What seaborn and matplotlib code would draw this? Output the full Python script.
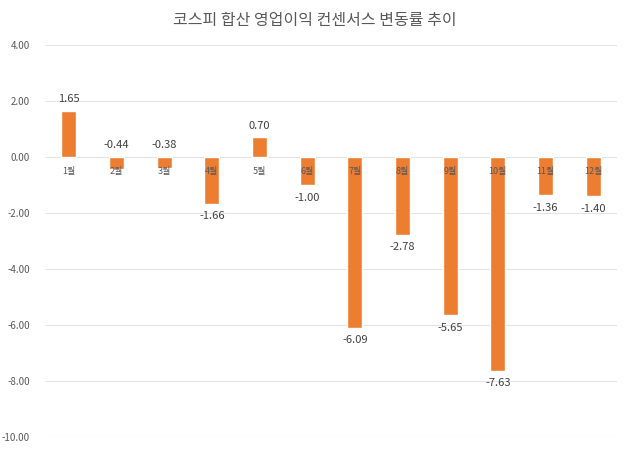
import matplotlib
matplotlib.use("Agg")
import matplotlib.pyplot as plt
import seaborn as sns
import pandas as pd

months = ["1월", "2월", "3월", "4월", "5월", "6월", "7월", "8월", "9월", "10월", "11월", "12월"]
values = [1.65, -0.44, -0.38, -1.66, 0.70, -1.00, -6.09, -2.78, -5.65, -7.63, -1.36, -1.40]
y_ticks = [4, 2, 0, -2, -4, -6, -8, -10]

sns.set_theme(style="white")
plt.rcParams['font.family'] = ['Noto Sans CJK KR', 'DejaVu Sans']

df = pd.DataFrame({"month": months, "value": values})

fig = plt.figure(figsize=(6.3, 4.49), dpi=100)
ax = fig.add_axes([0.0714, 0.0267, 0.908, 0.873])

sns.barplot(data=df, x="month", y="value", color="#ED7D31", saturation=1,
            width=0.31, ax=ax, zorder=2)

ax.set_ylim(-10, 4)
ax.set_xlim(-0.5, len(months) - 0.5)
ax.set_yticks(y_ticks)
ax.set_yticklabels([f"{t:.2f}" for t in y_ticks], fontsize=7, color="#595959")
ax.tick_params(axis="y", length=0, pad=11)
ax.set_xticks([])
ax.set_xlabel("")
ax.set_ylabel("")
for s in ax.spines.values():
    s.set_visible(False)
ax.yaxis.grid(True, color="#E4E4E4", linewidth=0.8, zorder=0)
ax.set_axisbelow(True)

# month labels sit just under the zero line
for i, m in enumerate(months):
    ax.annotate(m, (i, 0), xytext=(0, -10.5), textcoords="offset points",
                ha="center", va="center", fontsize=6.5, color="#595959", zorder=3)

# value labels: small negatives go above the zero line so they clear the month label
for i, v in enumerate(values):
    if v >= 0:
        anchor, off = v, 8.5
    elif v > -0.5:
        anchor, off = 0, 8.5
    else:
        anchor, off = v, -9
    ax.annotate(f"{v:.2f}", (i, anchor), xytext=(0, off), textcoords="offset points",
                ha="center", va="center", fontsize=8, color="#404040", zorder=3)

fig.text(0.5, 0.955, "코스피 합산 영업이익 컨센서스 변동률 추이", ha="center", va="center",
         fontsize=11.5, color="#595959")

fig.savefig("out.png", dpi=100)
